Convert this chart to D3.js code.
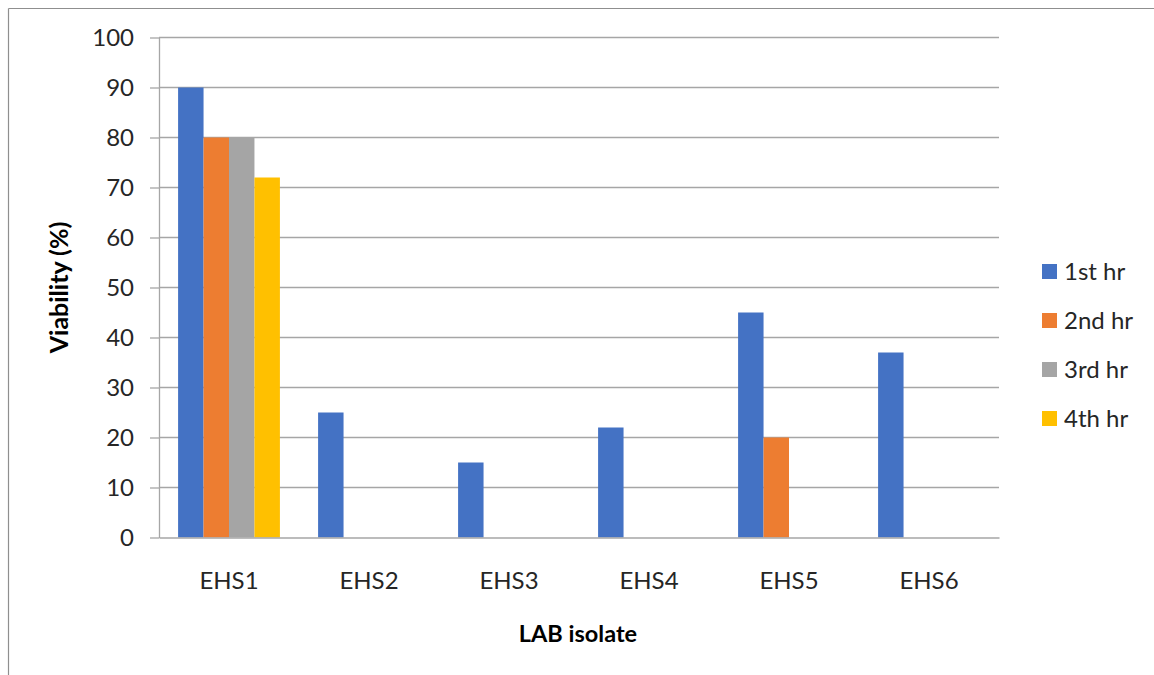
<!DOCTYPE html>
<html>
<head>
<meta charset="utf-8">
<script src="https://cdn.jsdelivr.net/npm/d3@7"></script>
<style>
  html, body { margin: 0; padding: 0; background: #fff; }
  svg { display: block; font-family: Lato, "Open Sans", sans-serif; }
</style>
</head>
<body>
<svg id="chart" width="1154" height="675"></svg>
<script>
// Isolate names along the x axis
const isolates = ["EHS1", "EHS2", "EHS3", "EHS4", "EHS5", "EHS6"];
// Time points (series)
const hours = ["1st hr", "2nd hr", "3rd hr", "4th hr"];
// Viability (%) per isolate for each hour
const hr1 = [90, 25, 15, 22, 45, 37];
const hr2 = [80, 0, 0, 0, 20, 0];
const hr3 = [80, 0, 0, 0, 0, 0];
const hr4 = [72, 0, 0, 0, 0, 0];
const seriesValues = [hr1, hr2, hr3, hr4];
const yTicks = [0, 10, 20, 30, 40, 50, 60, 70, 80, 90, 100];
const colors = ["#4472C4", "#ED7D31", "#A5A5A5", "#FFC000"];

const svg = d3.select("#chart");
const margin = { left: 159, right: 155, top: 37.5, bottom: 137.5 };
const W = 1154, H = 675;
const plotW = W - margin.left - margin.right;
const plotH = H - margin.top - margin.bottom;
const fontSize = 24;

// Outer frame (top and left edges)
svg.append("line").attr("x1", 8.5).attr("x2", W).attr("y1", 8.5).attr("y2", 8.5)
  .attr("stroke", "#8f8f8f").attr("stroke-width", 1.2);
svg.append("line").attr("x1", 8.5).attr("x2", 8.5).attr("y1", 8.5).attr("y2", H)
  .attr("stroke", "#8f8f8f").attr("stroke-width", 1.2);

const g = svg.append("g").attr("transform", `translate(${margin.left},${margin.top})`);

// One band per isolate; inside it, 4 bars with a 150% gap split on both sides
const x0 = d3.scaleBand().domain(isolates).range([0, plotW]).paddingInner(0).paddingOuter(0);
const x1 = d3.scaleBand().domain(hours).range([0, x0.bandwidth()])
  .paddingInner(0).paddingOuter(0.75);
const y = d3.scaleLinear().domain([0, 100]).range([plotH, 0]);

// Horizontal gridlines
g.append("g").selectAll("line").data(yTicks.filter(d => d > 0)).join("line")
  .attr("x1", 0).attr("x2", plotW)
  .attr("y1", d => y(d)).attr("y2", d => y(d))
  .attr("stroke", "#a6a6a6").attr("stroke-width", 1.3);

// Bars
const rows = [];
seriesValues.forEach((vals, si) => {
  vals.forEach((v, ci) => rows.push({ iso: isolates[ci], hr: hours[si], v, si }));
});
g.append("g").selectAll("rect").data(rows.filter(d => d.v > 0)).join("rect")
  .attr("x", d => x0(d.iso) + x1(d.hr))
  .attr("width", x1.bandwidth())
  .attr("y", d => y(d.v))
  .attr("height", d => y(0) - y(d.v))
  .attr("fill", d => colors[d.si]);

// Y axis
const yAxis = d3.axisLeft(y).tickValues(yTicks).tickSize(9).tickPadding(16).tickSizeOuter(0);
const ya = g.append("g").call(yAxis);
ya.select(".domain").attr("stroke", "#a6a6a6").attr("stroke-width", 1.3);
ya.selectAll(".tick line").attr("stroke", "#a6a6a6").attr("stroke-width", 1.3);
ya.selectAll(".tick text").attr("font-size", fontSize).attr("fill", "#262626")
  .attr("font-family", "Lato, 'Open Sans', sans-serif");

// X axis baseline and category labels
const xAxis = d3.axisBottom(x0).tickSize(0).tickPadding(34).tickSizeOuter(0);
const xa = g.append("g").attr("transform", `translate(0,${plotH})`).call(xAxis);
xa.select(".domain").attr("stroke", "#a6a6a6").attr("stroke-width", 1.3);
xa.selectAll(".tick text").attr("font-size", fontSize).attr("fill", "#262626")
  .attr("font-family", "Lato, 'Open Sans', sans-serif");

// Axis titles
svg.append("text")
  .attr("transform", `translate(68,${margin.top + plotH / 2}) rotate(-90)`)
  .attr("text-anchor", "middle")
  .attr("font-size", 25).attr("font-weight", "bold").attr("fill", "#000")
  .text("Viability (%)");
svg.append("text")
  .attr("x", margin.left + plotW / 2 - 1).attr("y", 642)
  .attr("text-anchor", "middle")
  .attr("font-size", 23.5).attr("font-weight", "bold").attr("fill", "#000")
  .text("LAB isolate");

// Legend
const leg = svg.append("g").attr("transform", "translate(1042,272)");
const li = leg.selectAll("g").data(hours).join("g")
  .attr("transform", (d, i) => `translate(0,${i * 49})`);
li.append("rect").attr("x", 0).attr("y", -8).attr("width", 15).attr("height", 15)
  .attr("fill", (d, i) => colors[i]);
li.append("text").attr("x", 22).attr("y", 0).attr("dy", "0.35em")
  .attr("font-size", fontSize).attr("fill", "#262626").text(d => d);
</script>
</body>
</html>
